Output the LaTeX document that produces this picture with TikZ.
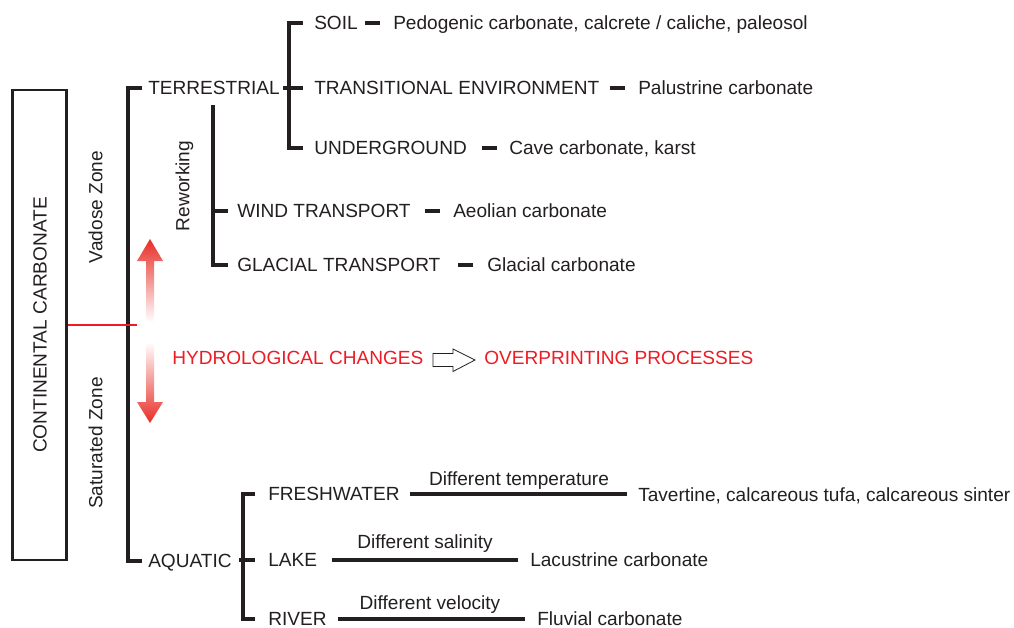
\documentclass[tikz,border=0pt]{standalone}
\usepackage{fontspec}
\setmainfont{Liberation Sans}
\usetikzlibrary{calc}
\definecolor{ink}{HTML}{231F20}
\definecolor{hred}{RGB}{237,28,36}
\definecolor{ared}{RGB}{232,45,38}
\begin{document}
\begin{tikzpicture}[x=0.75pt,y=-0.75pt,
  font=\fontsize{14.3}{16}\selectfont,
  every node/.style={inner sep=0pt, text=ink},
  lbl/.style={anchor=west, text height=10.2pt, text depth=0pt},
  ctr/.style={text height=10.2pt, text depth=0pt},
  rot/.style={rotate=90, text height=10.2pt, text depth=0pt},
  ln/.style={draw=ink, line width=2.3pt},
  redtxt/.style={lbl, text=hred},
  upfade/.style={draw=none, bottom color=white, middle color=ared!60!white, top color=ared},
  downfade/.style={draw=none, top color=white, middle color=ared!60!white, bottom color=ared},
]
\useasboundingbox (0,0) rectangle (1014,628);

% main box
\node[draw=ink, line width=2.2pt, rotate=90, minimum width=352.5pt, minimum height=40.5pt,
      text height=10.2pt, text depth=0pt] (cc) at (39.7,325) {CONTINENTAL CARBONATE};
\node[rot] (vadose) at (95.5,207) {Vadose Zone};
\node[rot] (saturated) at (95.5,443) {Saturated Zone};
\node[rot] (rework) at (182.5,186) {Reworking};

% first level
\node[lbl] (terr) at (148,88) {TERRESTRIAL};
\node[lbl] (aqua) at (148,561) {AQUATIC};
\coordinate (mtop) at (128,88);
\coordinate (mbot) at (128,561);
\draw[ln] ($(terr.west)+(-6,0)$) -- (mtop) -- (mbot) -- ($(aqua.west)+(-6,0)$);
\coordinate (redend) at (137,325);
\draw[hred, line width=2.2pt] (cc.south) -- (redend);

% terrestrial branch
\node[lbl] (soil) at (314,23) {SOIL};
\node[lbl] (ped) at (393,23) {Pedogenic carbonate, calcrete / caliche, paleosol};
\node[lbl] (trans) at (314,88) {TRANSITIONAL ENVIRONMENT};
\node[lbl] (palu) at (638,88) {Palustrine carbonate};
\node[lbl] (under) at (314,148) {UNDERGROUND};
\node[lbl] (cave) at (509,148) {Cave carbonate, karst};
\draw[ln] ($(soil.west)+(-11,0)$) -| ($(under.west)+(-25,0)$) -- ($(under.west)+(-11,0)$);
\draw[ln] ($(trans.west)+(-31,0)$) -- ($(trans.west)+(-11,0)$);
\draw[ln] ($(ped.west)+(-28,0)$) -- ($(ped.west)+(-13,0)$);
\draw[ln] ($(palu.west)+(-28,0)$) -- ($(palu.west)+(-13,0)$);
\draw[ln] ($(cave.west)+(-27,0)$) -- ($(cave.west)+(-12,0)$);

% reworking branch
\node[lbl] (wind) at (237,211) {WIND TRANSPORT};
\node[lbl] (aeol) at (453,211) {Aeolian carbonate};
\node[lbl] (glac) at (237,265) {GLACIAL TRANSPORT};
\node[lbl] (glacc) at (487,265) {Glacial carbonate};
\coordinate (rwtop) at (213,105);
\draw[ln] (rwtop) |- ($(glac.west)+(-9,0)$);
\draw[ln] ($(wind.west)+(-24,0)$) -- ($(wind.west)+(-9,0)$);
\draw[ln] ($(aeol.west)+(-28,0)$) -- ($(aeol.west)+(-13,0)$);
\draw[ln] ($(glacc.west)+(-29,0)$) -- ($(glacc.west)+(-14,0)$);

% hydrological arrows
\path[upfade] (150,239) -- (163,261) -- (154,261) -- (154,322) -- (146,322) -- (146,261) -- (137,261) -- cycle;
\path[downfade] (150,423) -- (163,402) -- (154,402) -- (154,342) -- (146,342) -- (146,402) -- (137,402) -- cycle;
\node[redtxt] (hydro) at (172,358) {HYDROLOGICAL CHANGES};
\node[redtxt] (over) at (484,358) {OVERPRINTING PROCESSES};
\draw[ink, line width=0.6pt, fill=white, line join=miter]
  (433,353.5) -- (453,353.5) -- (453,349) -- (475,360) -- (453,371.5) -- (453,366.5) -- (433,366.5) -- cycle;

% aquatic branch
\node[lbl] (fresh) at (268,494) {FRESHWATER};
\node[lbl] (tav) at (638,495) {Tavertine, calcareous tufa, calcareous sinter};
\node[ctr] (difftemp) at (519,479) {Different temperature};
\node[lbl] (lake) at (268,560) {LAKE};
\node[lbl] (lac) at (530,560) {Lacustrine carbonate};
\node[ctr] (diffsal) at (425,542) {Different salinity};
\node[lbl] (river) at (268,619) {RIVER};
\node[lbl] (fluv) at (537,619) {Fluvial carbonate};
\node[ctr] (diffvel) at (430,603) {Different velocity};
\draw[ln] ($(fresh.west)+(-13,0)$) -| ($(river.west)+(-25,0)$) -- ($(river.west)+(-13,0)$);
\draw[ln] ($(lake.west)+(-29,0)$) -- ($(lake.west)+(-13,0)$);
\draw[ln] ($(fresh.west)+(142,0)$) -- ($(tav.west)+(-11,-1)$);
\draw[ln] ($(lake.west)+(64,0)$) -- ($(lac.west)+(-12,0)$);
\draw[ln] ($(river.west)+(70,0)$) -- ($(fluv.west)+(-12,0)$);
\end{tikzpicture}
\end{document}
